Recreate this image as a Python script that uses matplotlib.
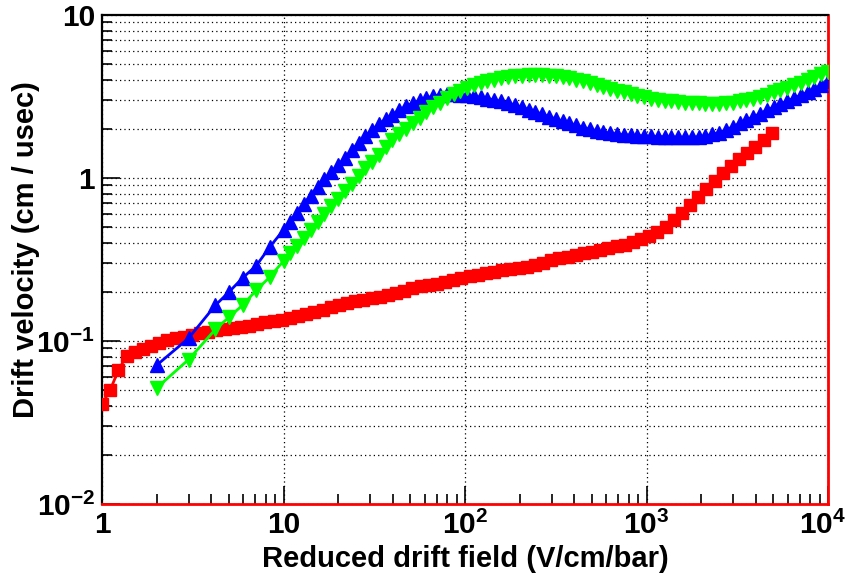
import matplotlib
matplotlib.use("Agg")
import matplotlib.pyplot as plt
import matplotlib.transforms as mtransforms
from matplotlib.ticker import FixedLocator, FixedFormatter, LogLocator, NullFormatter

plt.rcParams['font.family'] = ['Liberation Sans', 'DejaVu Sans']
plt.rcParams['font.weight'] = 'bold'
plt.rcParams['mathtext.fontset'] = 'custom'
plt.rcParams['mathtext.rm'] = 'Liberation Sans:bold'
plt.rcParams['mathtext.it'] = 'Liberation Sans:bold'
plt.rcParams['mathtext.bf'] = 'Liberation Sans:bold'

#%% data

# red squares
field_red = [1.00, 1.109, 1.230, 1.365, 1.514, 1.679, 1.862, 2.065, 2.291, 2.541,
             2.818, 3.126, 3.467, 3.846, 4.266, 4.732, 5.248, 5.821, 6.457, 7.161,
             7.943, 8.810, 9.772, 10.84, 12.02, 13.34, 14.79, 16.41, 18.20, 20.18,
             22.39, 24.83, 27.54, 30.55, 33.88, 37.58, 41.69, 46.24, 51.29, 56.89,
             63.10, 69.98, 77.62, 86.10, 95.50, 105.9, 117.5, 130.3, 144.5, 160.3,
             177.8, 197.2, 218.8, 242.7, 269.2, 298.5, 331.1, 367.3, 407.4, 451.9,
             501.2, 555.9, 616.6, 683.9, 758.6, 841.4, 933.3, 1035, 1148, 1274,
             1413, 1567, 1738, 1928, 2138, 2371, 2630, 2917, 3236, 3589,
             3981, 4416, 4898]
vel_red = [0.041, 0.050, 0.066, 0.081, 0.086, 0.089, 0.093, 0.097, 0.101, 0.104,
           0.106, 0.109, 0.112, 0.114, 0.116, 0.119, 0.120, 0.122, 0.124, 0.127,
           0.130, 0.132, 0.135, 0.139, 0.142, 0.147, 0.151, 0.156, 0.161, 0.166,
           0.171, 0.175, 0.179, 0.183, 0.186, 0.192, 0.198, 0.204, 0.211, 0.216,
           0.221, 0.225, 0.229, 0.236, 0.244, 0.249, 0.253, 0.260, 0.266, 0.271,
           0.277, 0.281, 0.285, 0.293, 0.303, 0.313, 0.322, 0.328, 0.336, 0.345,
           0.352, 0.360, 0.370, 0.380, 0.390, 0.405, 0.420, 0.440, 0.465, 0.500,
           0.550, 0.610, 0.680, 0.765, 0.860, 0.960, 1.08, 1.18, 1.30, 1.43,
           1.55, 1.71, 1.90]

# blue (up triangles) and green (down triangles) share the same field points
field_bg = [2, 3, 4.22, 5.01, 5.96, 7.08, 8.41,
            10, 10.9, 11.9, 12.9, 14.1, 15.4, 16.8, 18.3, 20.0, 21.8,
            23.7, 25.9, 28.2, 30.7, 33.5, 36.5, 39.8, 43.4, 47.3, 51.6,
            56.2, 61.3, 66.8, 72.8, 79.4, 86.6, 94.4, 103, 112, 122,
            133, 145, 158, 173, 188, 205, 224, 244, 266, 290,
            316, 345, 376, 410, 447, 487, 531, 579, 631, 688,
            750, 818, 891, 972, 1059, 1155, 1259, 1373, 1496, 1631,
            1778, 1939, 2113, 2304, 2512, 2738, 2985, 3255, 3548, 3868,
            4217, 4597, 5012, 5464, 5957, 6494, 7079, 7718, 8414, 9173,
            10000]
vel_blue = [0.071, 0.104, 0.166, 0.20, 0.244, 0.29, 0.378,
            0.48, 0.54, 0.61, 0.69, 0.78, 0.88, 0.98, 1.09, 1.20, 1.33,
            1.48, 1.64, 1.80, 1.97, 2.13, 2.30, 2.45, 2.61, 2.75, 2.88,
            3.00, 3.10, 3.18, 3.24, 3.28, 3.28, 3.25, 3.21, 3.17, 3.12,
            3.07, 3.01, 2.95, 2.88, 2.80, 2.72, 2.63, 2.55, 2.46, 2.38,
            2.30, 2.23, 2.16, 2.10, 2.04, 1.99, 1.95, 1.91, 1.88, 1.86,
            1.84, 1.83, 1.82, 1.81, 1.80, 1.795, 1.79, 1.785, 1.78, 1.78,
            1.78, 1.79, 1.81, 1.85, 1.90, 1.97, 2.06, 2.16, 2.26, 2.37,
            2.48, 2.60, 2.72, 2.84, 2.97, 3.09, 3.22, 3.36, 3.52, 3.72,
            3.95]
vel_green = [0.0515, 0.077, 0.118, 0.14, 0.166, 0.205, 0.247,
             0.31, 0.345, 0.38, 0.43, 0.48, 0.54, 0.60, 0.67, 0.74, 0.83,
             0.92, 1.03, 1.15, 1.26, 1.38, 1.54, 1.70, 1.85, 2.00, 2.17,
             2.35, 2.53, 2.72, 2.90, 3.08, 3.26, 3.42, 3.57, 3.70, 3.82,
             3.92, 4.01, 4.08, 4.15, 4.20, 4.24, 4.27, 4.28, 4.27, 4.24,
             4.20, 4.14, 4.08, 4.00, 3.92, 3.83, 3.73, 3.62, 3.52, 3.43,
             3.35, 3.27, 3.20, 3.13, 3.07, 3.02, 2.98, 2.95, 2.92, 2.90,
             2.88, 2.87, 2.86, 2.86, 2.86, 2.88, 2.90, 2.95, 3.00, 3.07,
             3.15, 3.25, 3.35, 3.46, 3.58, 3.71, 3.85, 4.00, 4.15, 4.32,
             4.50]

xtick_vals = [1, 10, 100, 1000, 10000]
xtick_labels = ['1', '10', '$10^{2}$', '$10^{3}$', '$10^{4}$']
ytick_vals = [0.01, 0.1, 1, 10]
ytick_labels = ['$10^{-2}$', '$10^{-1}$', '1', '10']

#%% plot

fig = plt.figure(figsize=(8.5, 5.76), dpi=100)
ax = fig.add_axes([102 / 850, 1 - 504 / 576, 726 / 850, 489 / 576])
ax.set_xscale('log')
ax.set_yscale('log')
ax.set_xlim(1, 1e4)
ax.set_ylim(1e-2, 10)

ax.plot(field_red, vel_red, color='#ff0000', lw=2, marker='s', ms=8,
        mec='#ff0000', zorder=3)
ax.plot(field_bg, vel_blue, color='#0000ff', lw=2, marker='^', ms=10,
        mec='#0000ff', zorder=4)
ax.plot(field_bg, vel_green, color='#00ff00', lw=2, marker='v', ms=10,
        mec='#00ff00', zorder=5)

# ticks and grid, ROOT like
ax.xaxis.set_major_locator(FixedLocator(xtick_vals))
ax.xaxis.set_major_formatter(FixedFormatter(xtick_labels))
ax.xaxis.set_minor_locator(LogLocator(base=10, subs=range(2, 10)))
ax.xaxis.set_minor_formatter(NullFormatter())
ax.yaxis.set_major_locator(FixedLocator(ytick_vals))
ax.yaxis.set_major_formatter(FixedFormatter(ytick_labels))
ax.yaxis.set_minor_locator(LogLocator(base=10, subs=range(2, 10)))
ax.yaxis.set_minor_formatter(NullFormatter())

ax.tick_params(which='both', direction='in', top=False, right=False,
               width=1.2, color='black')
ax.tick_params(which='major', length=13, labelsize=21.5)
ax.tick_params(which='minor', length=7)
ax.tick_params(axis='x', which='major', pad=5)
ax.tick_params(axis='y', which='major', pad=5)

# keep the last x label inside the figure
last = ax.get_xticklabels()[-1]
last.set_transform(last.get_transform() +
                   mtransforms.ScaledTranslation(-5 / 100, 0, fig.dpi_scale_trans))

ax.yaxis.grid(True, which='both', color='black', lw=0.9, ls=(0, (1, 2.5)))
ax.xaxis.grid(True, which='major', color='black', lw=0.9, ls=(0, (1, 2.5)))
ax.set_axisbelow(True)

for side in ['top', 'left']:
    ax.spines[side].set_linewidth(1.6)
    ax.spines[side].set_color('black')
for side in ['bottom', 'right']:
    ax.spines[side].set_linewidth(2.0)
    ax.spines[side].set_color('#ff0000')

ax.set_xlabel('Reduced drift field (V/cm/bar)', fontsize=21, fontweight='bold')
ax.xaxis.set_label_coords(0.5, -0.083)
ax.set_ylabel('Drift velocity (cm / usec)', fontsize=21, fontweight='bold')
ax.yaxis.set_label_coords(-0.085, 0.52)

fig.savefig('out.png', dpi=100)
